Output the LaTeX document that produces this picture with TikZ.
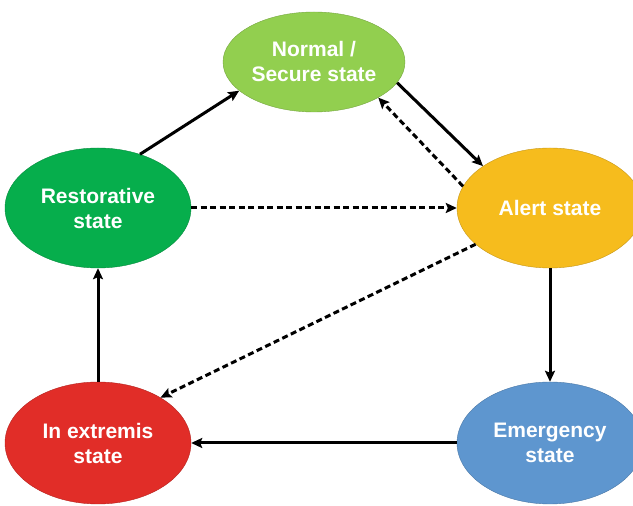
\documentclass[tikz,border=0pt]{standalone}
\usepackage{fontspec}
\setmainfont{Liberation Sans}
\usepackage{xcolor}
\usepackage{tikz}
\usetikzlibrary{shapes,arrows,positioning,calc,arrows.meta}
\definecolor{normalgreen}{HTML}{92CF4F}
\definecolor{restogreen}{HTML}{06AE4C}
\definecolor{alertyellow}{HTML}{F6BC1D}
\definecolor{extremisred}{HTML}{E12D28}
\definecolor{emergblue}{HTML}{5E96CF}

\begin{document}
\begin{tikzpicture}[x=1pt,y=1pt,
    state/.style={ellipse, inner sep=0pt, minimum width=186pt, minimum height=120pt,
        text=white, font=\fontsize{21}{25}\selectfont\bfseries, align=center},
    trans/.style={line width=3pt, -{Stealth[length=11pt,width=10pt,inset=2pt]}},
    back/.style={trans, dash pattern=on 6pt off 3.5pt}]
    \useasboundingbox (0,0) rectangle (633,506);

    \node [state, fill=normalgreen, draw=normalgreen!80!black, minimum width=182pt, minimum height=100pt] (normal) at (314,444) {Normal /\\Secure state};
    \node [state, fill=restogreen, draw=restogreen!80!black] (resto) at (98,298) {Restorative\\state};
    \node [state, fill=alertyellow, draw=alertyellow!80!black] (alert) at (550,298) {Alert state};
    \node [state, fill=extremisred, draw=extremisred!80!black, minimum height=122pt] (extremis) at (98,63) {In extremis\\state};
    \node [state, fill=emergblue, draw=emergblue!80!black, minimum height=122pt] (emerg) at (550,63) {Emergency\\state};

    \draw [trans] (resto.52) -- (normal.201);
    \draw [trans] (normal.-14) -- (alert.148);
    \draw [back] (alert.166) -- (normal.-29);
    \draw [back] (resto.east) -- (alert.west);
    \draw [back] (alert.206) -- (extremis.36);
    \draw [trans] (alert.south) -- (emerg.north);
    \draw [trans] (emerg.west) -- (extremis.east);
    \draw [trans] (extremis.north) -- (resto.south);
\end{tikzpicture}
\end{document}
